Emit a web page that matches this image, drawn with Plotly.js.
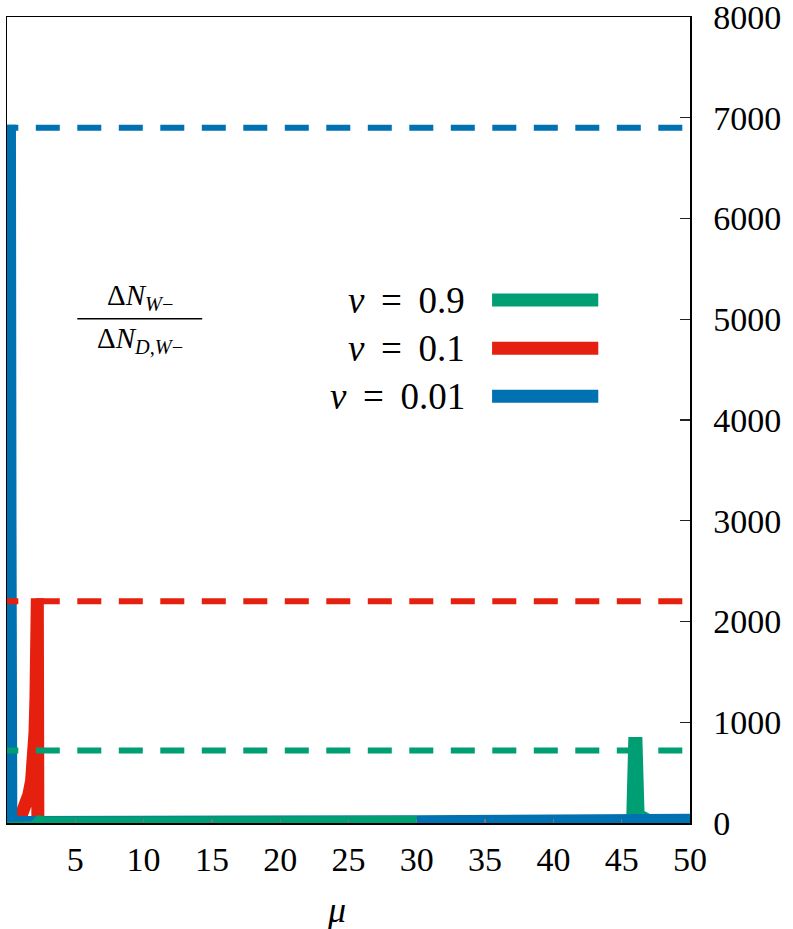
<!DOCTYPE html>
<html>
<head>
<meta charset="utf-8">
<script src="https://cdn.plot.ly/plotly-3.0.1.min.js"></script>
<style>
  html, body { margin: 0; padding: 0; background: #fff; }
  #chart { width: 793px; height: 929px; }
</style>
</head>
<body>
<div id="chart"></div>
<script>
// series: ratio vs mu, one per v
const seriesNames = ['v = 0.9', 'v = 0.1', 'v = 0.01'];
const seriesColors = ['#009e73', '#e6200f', '#0072b2'];

// v = 0.9 (green)
const greenMu  = [0, 1, 2, 2.4, 2.6, 2.8, 5, 10, 20, 30, 40, 45, 45.8, 45.95, 46.05, 46.2, 46.5, 47, 48, 50];
const greenVal = [-55, -55, -45, 10, 15, 0, 0, 0, 0, 0, 0, 0, 10, 790, 790, 80, 50, 20, 5, 0];

// v = 0.1 (red)
const redMu  = [0.05, 0.4, 0.8, 1.1, 1.4, 1.6, 1.8, 1.95, 2.05, 2.12, 2.18, 2.22, 2.26, 2.4, 5, 10, 20, 30, 40, 50];
const redVal = [-10, 10, 40, 100, 180, 280, 420, 620, 900, 1250, 1700, 2230, -10, -15, -15, -15, -15, -15, -15, -15];

// v = 0.01 (blue)
const blueMu  = [0, 0.08, 0.14, 0.18, 0.22, 0.28, 0.4, 1, 2, 5, 10, 20, 30, 35, 40, 45, 50];
const blueVal = [1000, 4000, 6400, 6930, 3000, 60, 10, 5, 5, 5, 5, 8, 12, 16, 22, 26, 28];

// dashed reference levels
const peakLevels = [720, 2200, 6900];

const xTicks = [5, 10, 15, 20, 25, 30, 35, 40, 45, 50];
const yTicks = [0, 1000, 2000, 3000, 4000, 5000, 6000, 7000, 8000];

const FONT = 'Liberation Serif, DejaVu Serif, Times New Roman, serif';
const LW = 13;

function line(x, y, color, extra) {
  return Object.assign({
    x: x, y: y, type: 'scatter', mode: 'lines',
    line: { color: color, width: LW },
    hoverinfo: 'skip', showlegend: false
  }, extra || {});
}

// blue is drawn below green up to mu=30 and above it afterwards
const cut = blueMu.indexOf(30);
const traces = [
  line(redMu, redVal, seriesColors[1]),
  line(blueMu.slice(0, cut + 1), blueVal.slice(0, cut + 1), seriesColors[2]),
  line(greenMu, greenVal, seriesColors[0]),
  line(blueMu.slice(cut), blueVal.slice(cut), seriesColors[2])
];
peakLevels.forEach((lvl, i) => {
  traces.push(line([-0.93, 50], [lvl, lvl], seriesColors[i],
    { line: { color: seriesColors[i], width: 6, dash: '24px,17.5px' } }));
});

// hand-made legend: label right-aligned, swatch to the right
const legY = [0.6488, 0.589, 0.5296];
const annotations = seriesNames.map((name, i) => ({
  xref: 'paper', yref: 'paper', x: 0.6736, y: legY[i],
  xanchor: 'right', yanchor: 'middle', showarrow: false,
  text: '<i>v</i>\u2009 = \u2009' + name.split('= ')[1],
  font: { family: FONT, size: 37, color: '#000' }
}));
const shapes = seriesNames.map((name, i) => ({
  type: 'line', xref: 'paper', yref: 'paper',
  x0: 0.7102, x1: 0.8657, y0: legY[i], y1: legY[i],
  line: { color: seriesColors[i], width: 13 }
}));

// fraction label
annotations.push({
  xref: 'paper', yref: 'paper', x: 0.194, y: 0.6275,
  xanchor: 'center', yanchor: 'bottom', showarrow: false,
  text: 'Δ<i>N</i><sub><i>W</i>−</sub>',
  font: { family: FONT, size: 29, color: '#000' }
});
annotations.push({
  xref: 'paper', yref: 'paper', x: 0.194, y: 0.6235,
  xanchor: 'center', yanchor: 'top', showarrow: false,
  text: 'Δ<i>N</i><sub><i>D</i>,<i>W</i>−</sub>',
  font: { family: FONT, size: 29, color: '#000' }
});
shapes.push({
  type: 'line', xref: 'paper', yref: 'paper',
  x0: 0.1029, x1: 0.2858, y0: 0.6255, y1: 0.6255,
  line: { color: '#000', width: 1.5 }
});

// axis title mu
annotations.push({
  xref: 'paper', yref: 'paper', x: 0.482, y: -0.108,
  xanchor: 'center', yanchor: 'middle', showarrow: false,
  text: '<i>μ</i>',
  font: { family: FONT, size: 36, color: '#000' }
});

const layout = {
  width: 793, height: 929,
  margin: { l: 7, r: 103, t: 17, b: 106, pad: 0 },
  paper_bgcolor: '#fff', plot_bgcolor: '#fff',
  showlegend: false,
  font: { family: FONT, size: 34, color: '#000' },
  xaxis: {
    range: [0, 50], tickvals: xTicks, ticktext: xTicks.map(String),
    ticks: 'inside', ticklen: 4, tickwidth: 1.3, tickcolor: '#777',
    showline: true, linecolor: '#000', linewidth: 1.5, mirror: true,
    showgrid: false, zeroline: false, ticklabelstandoff: 6,
    ticklabeloverflow: 'allow',
    tickfont: { family: FONT, size: 34, color: '#000' }
  },
  yaxis: {
    side: 'right', range: [0, 8000], tickvals: yTicks, ticktext: yTicks.map(String),
    ticks: 'inside', ticklen: 10, tickwidth: 1.3, tickcolor: '#222',
    showline: true, linecolor: '#000', linewidth: 1.5, mirror: true,
    showgrid: false, zeroline: false, ticklabelstandoff: 15,
    ticklabeloverflow: 'allow',
    tickfont: { family: FONT, size: 34, color: '#000' }
  },
  annotations: annotations,
  shapes: shapes
};

Plotly.newPlot('chart', traces, layout, { staticPlot: true, displayModeBar: false });
</script>
</body>
</html>
